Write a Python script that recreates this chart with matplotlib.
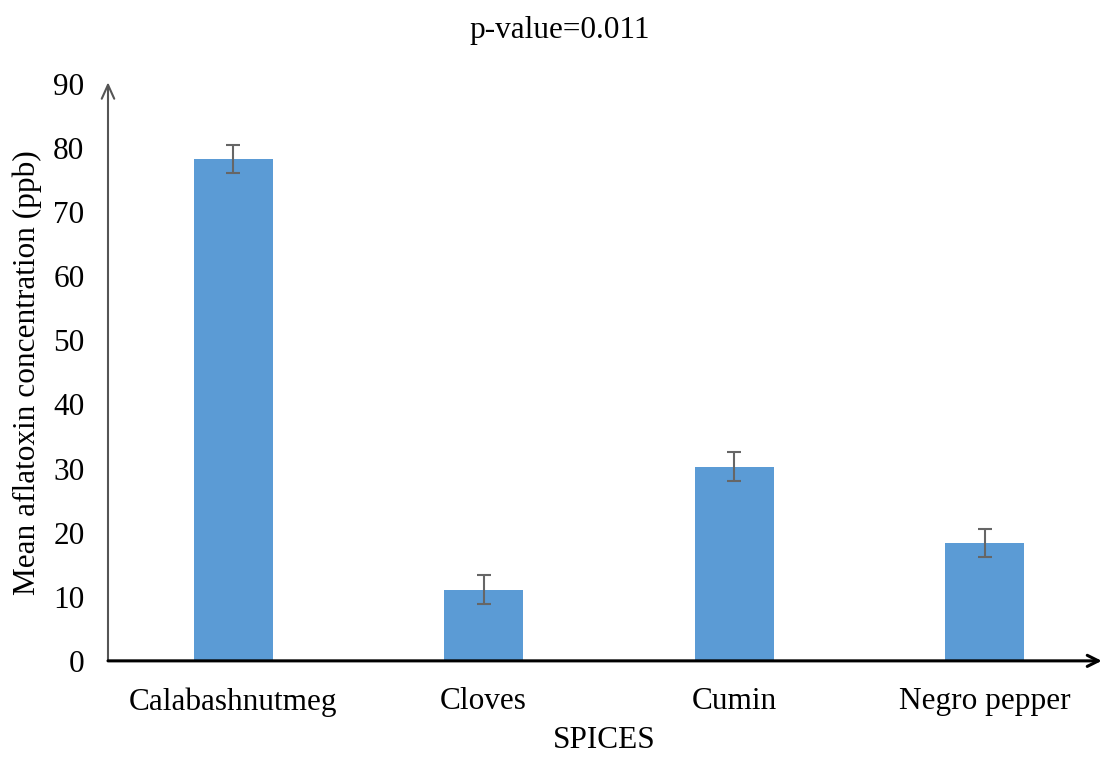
import matplotlib.pyplot as plt

spices = ['Calabashnutmeg', 'Cloves', 'Cumin', 'Negro pepper']
mean_aflatoxin = [78.3, 11.1, 30.3, 18.4]
std_error = [2.25, 2.3, 2.25, 2.25]
y_ticks = [0, 10, 20, 30, 40, 50, 60, 70, 80, 90]

plt.rcParams['font.family'] = ['Liberation Serif', 'DejaVu Serif']
fs = 22.5

fig = plt.figure(figsize=(11.02, 7.57), dpi=100)
ax = fig.add_axes([0.098, 0.127, 0.9, 0.762])

x = range(len(spices))
ax.bar(x, mean_aflatoxin, width=0.315, color='#5B9BD5', zorder=2)
ax.errorbar(x, mean_aflatoxin, yerr=std_error, fmt='none', ecolor='#666666',
            elinewidth=1.5, capsize=4.7, capthick=1.5, zorder=3)

ax.set_xlim(-0.5, 3.46)
ax.set_ylim(0, 90)
ax.set_yticks(y_ticks)
ax.set_xticks(list(x))
ax.set_xticklabels(spices)
ax.tick_params(axis='both', length=0, labelsize=fs)
ax.tick_params(axis='y', pad=17)
ax.tick_params(axis='x', pad=19)

for s in ax.spines.values():
    s.set_visible(False)

# axis lines drawn as open arrows
ax.annotate('', xy=(0, 1.003), xytext=(0, 0), xycoords='axes fraction',
            arrowprops=dict(arrowstyle='->,head_length=1.0,head_width=0.45',
                            color='#555555', lw=1.5, shrinkA=0, shrinkB=0))
ax.annotate('', xy=(1.002, 0), xytext=(0, 0), xycoords='axes fraction',
            arrowprops=dict(arrowstyle='->,head_length=0.8,head_width=0.4',
                            color='black', lw=2.2, shrinkA=0, shrinkB=0))

ax.set_xlabel('SPICES', fontsize=fs, labelpad=7)
ax.set_ylabel('Mean aflatoxin concentration (ppb)', fontsize=fs, labelpad=8)
fig.text(0.508, 0.96, 'p-value=0.011', ha='center', va='center', fontsize=fs)

fig.savefig('out.png', dpi=100)
